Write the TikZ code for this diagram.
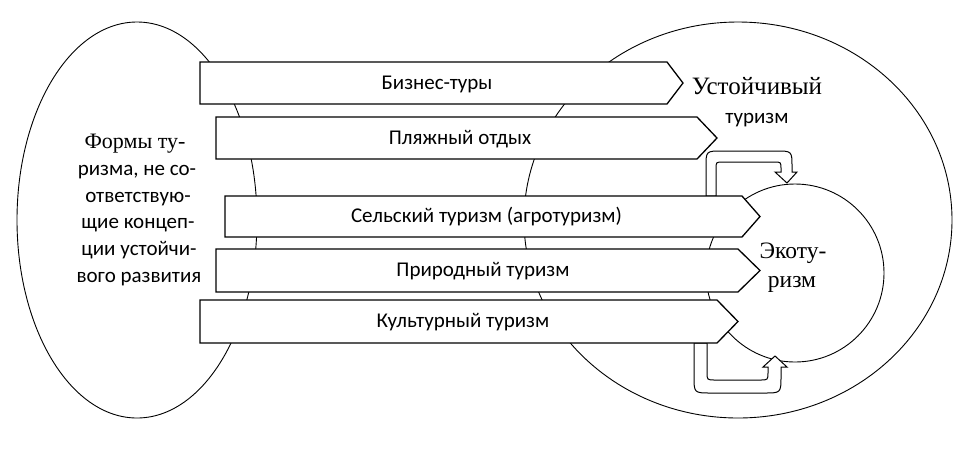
\documentclass[tikz,border=0pt]{standalone}
\usepackage{fontspec}
\setmainfont{Liberation Serif}
\newfontfamily\sansf{Carlito}
\usetikzlibrary{shapes.geometric}
\begin{document}
\begin{tikzpicture}[x=1pt,y=-1pt,line join=miter]
\tikzset{
  ring/.style={draw,line width=0.9pt,inner sep=0pt},
  sigbox/.style={draw,fill=white,line width=1.3pt},
  uarrow/.style={draw,fill=white,line width=1pt},
  lab/.style={font=\sansf\fontsize{21}{25}\selectfont,anchor=base,inner sep=0pt},
  slab/.style={font=\fontsize{22}{26}\selectfont,anchor=base,inner sep=0pt},
  elab/.style={font=\fontsize{23.5}{28}\selectfont,anchor=base,inner sep=0pt},
  ulab/.style={font=\fontsize{25}{30}\selectfont,anchor=base,inner sep=0pt},
}
\useasboundingbox (0,0) rectangle (975,459);
\fill[white] (0,0) rectangle (975,459);
% rings
\node[ring,ellipse,minimum width=240pt,minimum height=396pt] (left) at (137,220) {};
\node[ring,ellipse,minimum width=428pt,minimum height=396pt] (big) at (738,220) {};
\node[ring,circle,minimum size=178pt] (eco) at (795,273) {};
% U-turn arrows
\path[uarrow] (706,196) -- (706,167) .. controls (706,151) .. (722,151) -- (776,151)
  .. controls (792,151) .. (792,167) -- (792,172) -- (797,172) -- (787,183) -- (775,172)
  -- (781,172) -- (781,169) .. controls (781,162) .. (774,162) -- (723,162)
  .. controls (716,162) .. (716,169) -- (716,196) -- cycle;
\path[uarrow] (694,343) -- (694,376) .. controls (694,393) .. (711,393) -- (764,393)
  .. controls (781,393) .. (781,376) -- (781,367) -- (787,367) -- (775,356) -- (763,367)
  -- (768,367) -- (768,372) .. controls (768,380) .. (760,380) -- (715,380)
  .. controls (707,380) .. (707,372) -- (707,343) -- cycle;
% signal arrows
\path[sigbox] (200,62) -- (667,62) -- (683,83) -- (667,104) -- (200,104) -- cycle;
\path[sigbox] (216,117) -- (697,117) -- (717,138) -- (697,159) -- (216,159) -- cycle;
\path[sigbox] (225,196) -- (742,196) -- (760,216.5) -- (742,237) -- (225,237) -- cycle;
\path[sigbox] (216,249) -- (738,249) -- (760,270.5) -- (738,292) -- (216,292) -- cycle;
\path[sigbox] (200,300) -- (717,300) -- (738,321.5) -- (717,343) -- (200,343) -- cycle;
% arrow labels
\node[lab] (t1) at (437,89) {Бизнес-туры};
\node[lab] (t2) at (460,144) {Пляжный отдых};
\node[lab] (t3) at (486.5,222) {Сельский туризм (агротуризм)};
\node[lab] (t4) at (483,276) {Природный туризм};
\node[lab] (t5) at (463,327) {Культурный туризм};
% left text
\node[slab] (l1) at (135,148) {Формы ту-};
\node[lab] (l2) at (137,175) {ризма, не со-};
\node[lab] (l3) at (138,202) {ответствую-};
\node[lab] (l4) at (138,228) {щие концеп-};
\node[lab] (l5) at (139,255) {ции устойчи-};
\node[lab] (l6) at (139,282) {вого развития};
% right texts
\node[ulab] (r1) at (757,94) {Устойчивый};
\node[lab] (r2) at (757,123) {туризм};
\node[elab] (e1) at (793,258) {Экоту-};
\node[elab] (e2) at (792,287) {ризм};
\end{tikzpicture}
\end{document}
